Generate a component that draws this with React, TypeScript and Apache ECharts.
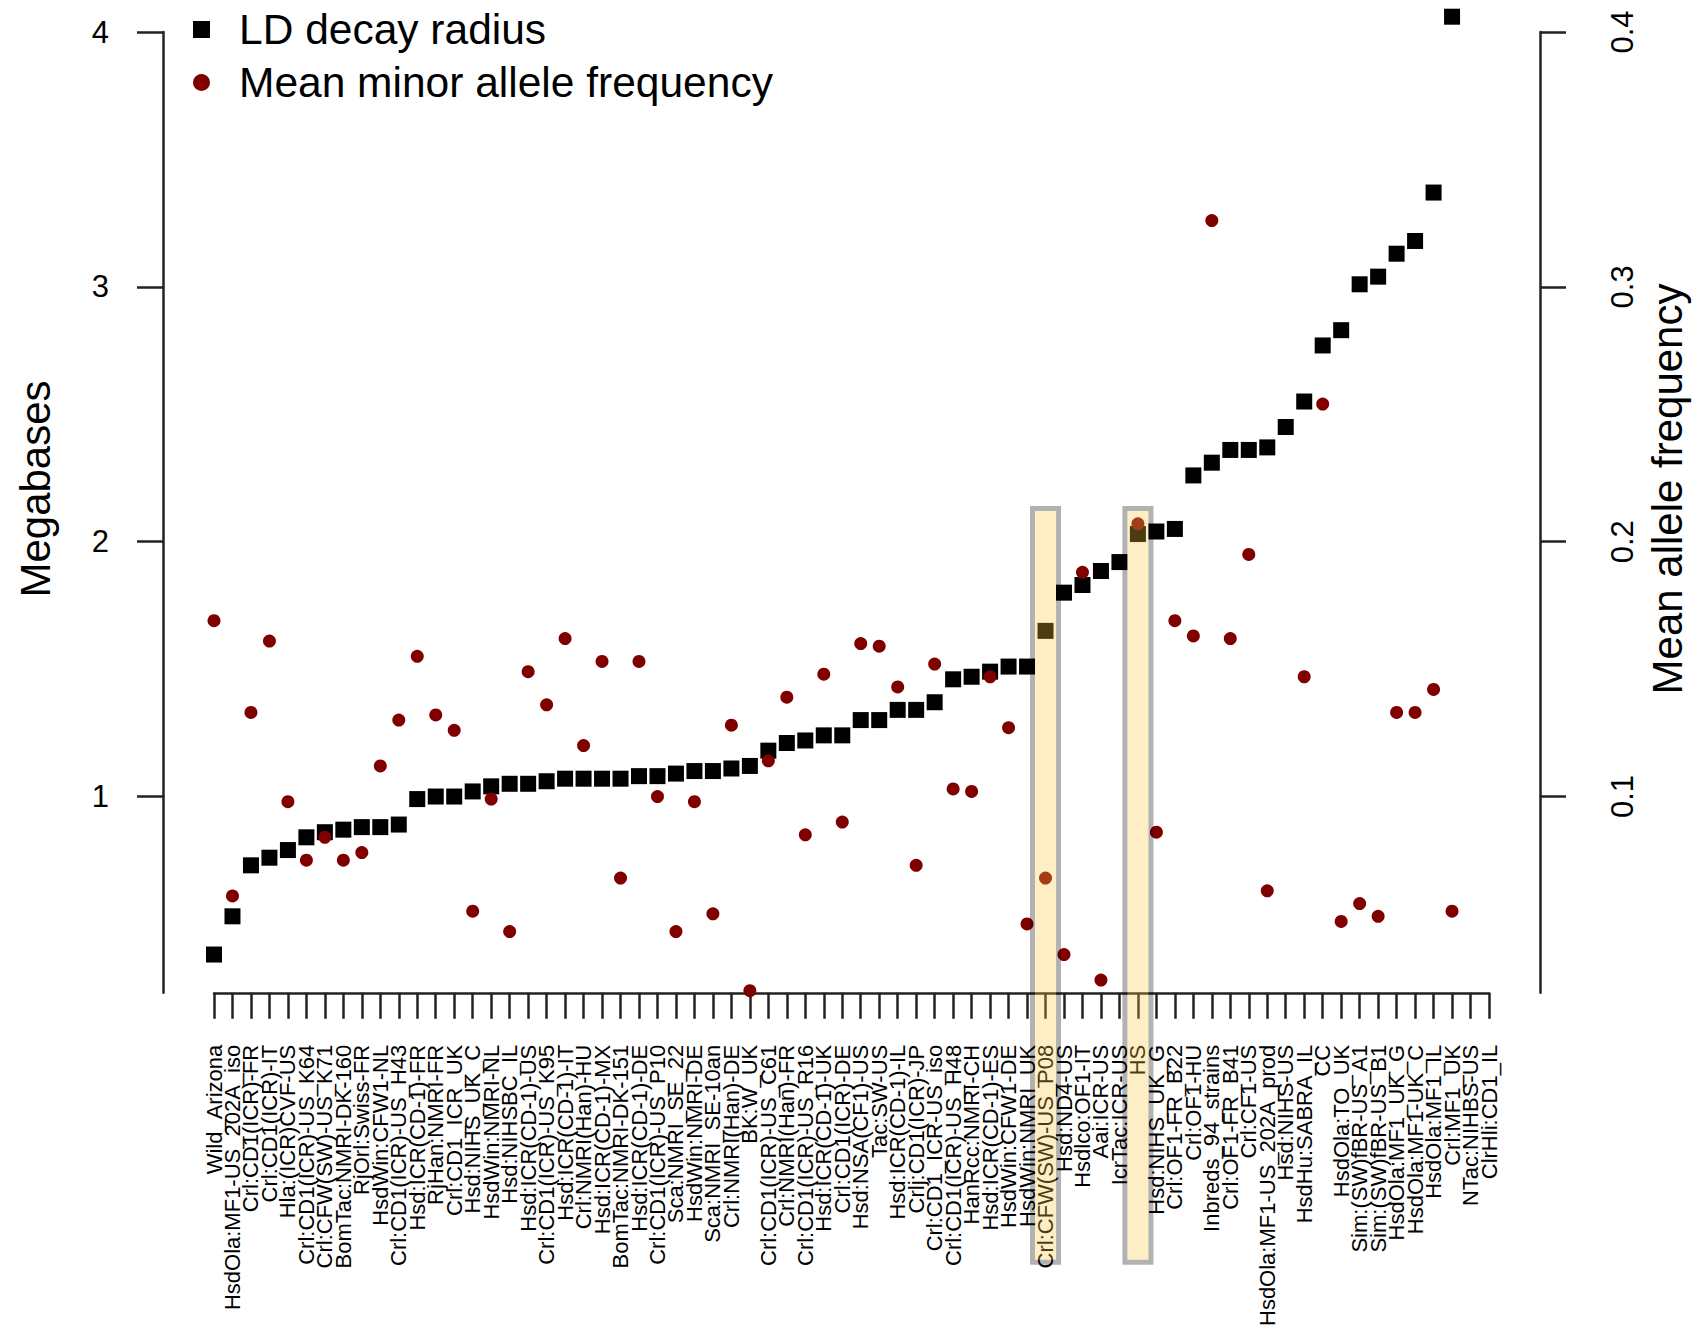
import React, { useEffect, useRef } from "react";
import * as echarts from "echarts";

// strain / population names along the x axis
const categories = [
  "Wild_Arizona", "HsdOla:MF1-US_202A_iso", "Crl:CD1(ICR)-FR", "Crl:CD1(ICR)-IT", "Hla:(ICR)CVF-US",
  "Crl:CD1(ICR)-US_K64", "Crl:CFW(SW)-US_K71", "BomTac:NMRI-DK-160", "RjOrl:Swiss-FR", "HsdWin:CFW1-NL",
  "Crl:CD1(ICR)-US_H43", "Hsd:ICR(CD-1)-FR", "RjHan:NMRI-FR", "Crl:CD1_ICR_UK", "Hsd:NIHS_UK_C",
  "HsdWin:NMRI-NL", "Hsd:NIHSBC_IL", "Hsd:ICR(CD-1)-US", "Crl:CD1(ICR)-US_K95", "Hsd:ICR(CD-1)-IT",
  "Crl:NMRI(Han)-HU", "Hsd:ICR(CD-1)-MX", "BomTac:NMRI-DK-151", "Hsd:ICR(CD-1)-DE", "Crl:CD1(ICR)-US_P10",
  "Sca:NMRI_SE_22", "HsdWin:NMRI-DE", "Sca:NMRI_SE-10an", "Crl:NMRI(Han)-DE", "BK:W_UK",
  "Crl:CD1(ICR)-US_C61", "Crl:NMRI(Han)-FR", "Crl:CD1(ICR)-US_R16", "Hsd:ICR(CD-1)-UK", "Crl:CD1(ICR)-DE",
  "Hsd:NSA(CF1)-US", "Tac:SW-US", "Hsd:ICR(CD-1)-IL", "Crlj:CD1(ICR)-JP", "Crl:CD1_ICR-US_iso",
  "Crl:CD1(ICR)-US_H48", "HanRcc:NMRI-CH", "Hsd:ICR(CD-1)-ES", "HsdWin:CFW1-DE", "HsdWin:NMRI_UK",
  "Crl:CFW(SW)-US_P08", "Hsd:ND4-US", "Hsdlco:OF1-IT", "Aai:ICR-US", "IcrTac:ICR-US",
  "HS", "Hsd:NIHS_UK_G", "Crl:OF1-FR_B22", "Crl:OF1-HU", "Inbreds_94_strains",
  "Crl:OF1-FR_B41", "Crl:CF1-US", "HsdOla:MF1-US_202A_prod", "Hsd:NIHS-US", "HsdHu:SABRA_IL",
  "CC", "HsdOla:TO_UK", "Sim:(SW)fBR-US_A1", "Sim:(SW)fBR-US_B1", "HsdOla:MF1_UK_G",
  "HsdOla:MF1-UK_C", "HsdOla:MF1_IL", "Crl:MF1_UK", "NTac:NIHBS-US", "ClrHli:CD1_IL",
];

// LD decay radius, megabases (left axis)
const ldRadius = [
  0.38, 0.53, 0.73, 0.76, 0.79, 0.84, 0.86, 0.87, 0.88, 0.88,
  0.89, 0.99, 1.0, 1.0, 1.02, 1.04, 1.05, 1.05, 1.06, 1.07,
  1.07, 1.07, 1.07, 1.08, 1.08, 1.09, 1.1, 1.1, 1.11, 1.12,
  1.18, 1.21, 1.22, 1.24, 1.24, 1.3, 1.3, 1.34, 1.34, 1.37,
  1.46, 1.47, 1.49, 1.51, 1.51, 1.65, 1.8, 1.83, 1.885, 1.92,
  2.03, 2.04, 2.05, 2.26, 2.31, 2.36, 2.36, 2.37, 2.45, 2.55,
  2.77, 2.83, 3.01, 3.04, 3.13, 3.18, 3.37, 4.06, null, null,
];

// mean minor allele frequency (right axis)
const meanMaf = [
  0.169, 0.061, 0.133, 0.161, 0.098, 0.075, 0.084, 0.075, 0.078, 0.112,
  0.13, 0.155, 0.132, 0.126, 0.055, 0.099, 0.047, 0.149, 0.136, 0.162,
  0.12, 0.153, 0.068, 0.153, 0.1, 0.047, 0.098, 0.054, 0.128, 0.0238,
  0.114, 0.139, 0.085, 0.148, 0.09, 0.16, 0.159, 0.143, 0.073, 0.152,
  0.103, 0.102, 0.147, 0.127, 0.05, 0.068, 0.038, 0.188, 0.028, null,
  0.207, 0.086, 0.169, 0.163, 0.326, 0.162, 0.195, 0.063, null, 0.147,
  0.254, 0.051, 0.058, 0.053, 0.133, 0.133, 0.142, 0.055, null, null,
];

const leftTicks = [1, 2, 3, 4];
const rightTicks = [0.1, 0.2, 0.3, 0.4];

// columns boxed in the figure
const highlighted = ["Crl:CFW(SW)-US_P08", "HS"];

const FONT = "'Liberation Sans', Arial, Helvetica, sans-serif";
const AXIS_COLOR = "#222";

const App: React.FC = () => {
  const chartRef = useRef<HTMLDivElement>(null);

  useEffect(() => {
    if (!chartRef.current) return;
    const chart = echarts.init(chartRef.current, undefined, { renderer: "svg" });

    chart.setOption({
      animation: false,
      backgroundColor: "#fff",
      textStyle: { fontFamily: FONT, color: "#000" },
      legend: {
        data: ["LD decay radius", "Mean minor allele frequency"],
        orient: "vertical",
        left: 188,
        top: 3,
        itemWidth: 17,
        itemHeight: 17,
        itemGap: 10,
        selectedMode: false,
        itemStyle: { opacity: 1 },
        textStyle: { fontSize: 42.5, color: "#000", fontFamily: FONT, padding: [0, 0, 0, 24] },
      },
      grid: { left: 214, right: 206, top: 32, bottom: 330 },
      xAxis: {
        type: "category",
        data: categories,
        boundaryGap: false,
        axisLine: { lineStyle: { color: AXIS_COLOR, width: 2.5 } },
        axisTick: { length: 26, interval: 0, lineStyle: { color: AXIS_COLOR, width: 2.5 } },
        axisLabel: { interval: 0, rotate: 90, fontSize: 22, margin: 52, color: "#000" },
        splitLine: { show: false },
      },
      yAxis: [
        {
          type: "value",
          min: 0.23,
          max: 4,
          offset: 51,
          position: "left",
          axisLine: { show: true, lineStyle: { color: AXIS_COLOR, width: 2.5 } },
          axisTick: { show: true, length: 26, customValues: leftTicks, lineStyle: { color: AXIS_COLOR, width: 2.5 } },
          axisLabel: { customValues: leftTicks, fontSize: 31, margin: 54, color: "#000" },
          splitLine: { show: false },
        },
        {
          type: "value",
          min: 0.023,
          max: 0.4,
          offset: 51,
          position: "right",
          axisLine: { show: true, lineStyle: { color: AXIS_COLOR, width: 2.5 } },
          axisTick: { show: true, length: 26, customValues: rightTicks, lineStyle: { color: AXIS_COLOR, width: 2.5 } },
          axisLabel: {
            customValues: rightTicks,
            rotate: 90,
            fontSize: 31,
            margin: 67,
            color: "#000",
            formatter: (v: number) => v.toFixed(1),
          },
          splitLine: { show: false },
        },
      ],
      graphic: [
        {
          type: "text",
          x: 35,
          y: 489,
          rotation: Math.PI / 2,
          style: { text: "Megabases", fontSize: 42, fontFamily: FONT, fill: "#000", align: "center", verticalAlign: "middle" },
        },
        {
          type: "text",
          x: 1667,
          y: 489,
          rotation: Math.PI / 2,
          style: { text: "Mean allele frequency", fontSize: 42, fontFamily: FONT, fill: "#000", align: "center", verticalAlign: "middle" },
        },
      ],
      series: [
        {
          name: "LD decay radius",
          type: "scatter",
          yAxisIndex: 0,
          symbol: "rect",
          symbolSize: 16,
          clip: false,
          itemStyle: { color: "#000", opacity: 1 },
          data: ldRadius,
        },
        {
          name: "Mean minor allele frequency",
          type: "scatter",
          yAxisIndex: 1,
          symbol: "circle",
          symbolSize: 13,
          clip: false,
          itemStyle: { color: "#800000", opacity: 1 },
          data: meanMaf,
        },
        {
          // translucent boxes over the two highlighted columns
          type: "custom",
          yAxisIndex: 0,
          z: 10,
          clip: false,
          silent: true,
          data: highlighted.map((name) => [categories.indexOf(name)]),
          renderItem: (_params: any, api: any) => {
            const i = api.value(0);
            const step = api.coord([1, 1])[0] - api.coord([0, 1])[0];
            const w = step * 1.41;
            const top = api.coord([i, 2.13]);
            const bottom = api.coord([i, -0.827]);
            const h = bottom[1] - top[1];
            const lw = 5;
            return {
              type: "group",
              children: [
                {
                  type: "rect",
                  shape: { x: top[0] - w / 2 + lw / 2, y: top[1] + lw / 2, width: w - lw, height: h - lw },
                  style: { fill: "rgba(250,200,67,0.3)" },
                },
                {
                  type: "rect",
                  shape: { x: top[0] - w / 2, y: top[1], width: w, height: h },
                  style: { fill: "none", stroke: "rgba(0,0,0,0.3)", lineWidth: lw },
                },
              ],
            };
          },
        },
      ],
    });

    return () => chart.dispose();
  }, []);

  return (
    <div
      ref={chartRef}
      style={{ position: "fixed", left: 0, top: 0, width: "1695px", height: "1329px", background: "#fff" }}
    />
  );
};

export default App;
